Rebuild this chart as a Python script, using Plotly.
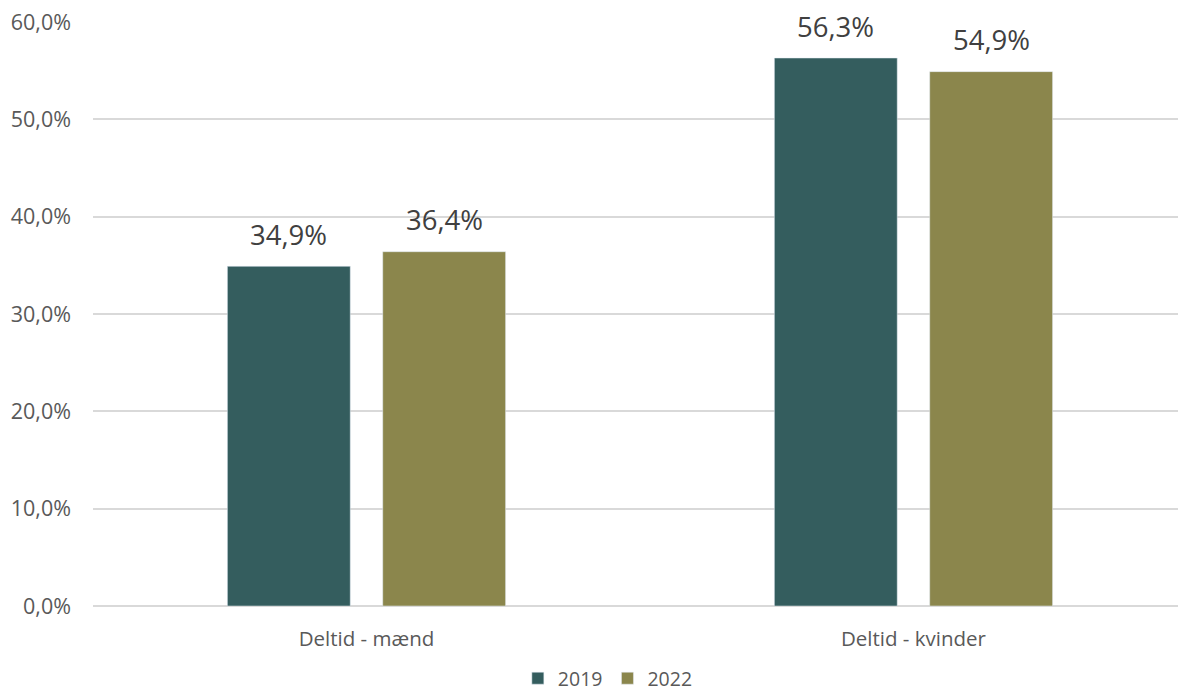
import plotly.graph_objects as go

categories = ["Deltid - mænd", "Deltid - kvinder"]
years = ["2019", "2022"]
values_2019 = [0.349, 0.563]
values_2022 = [0.364, 0.549]
colors = ["#345D5E", "#8B864C"]

def fmt(v):
    return f"{v*100:.1f}%".replace(".", ",")

BARGAP = 0.432
BARGROUPGAP = 0.209
CAT_PX = 547.5

fig = go.Figure()
series = [values_2019, values_2022]
for name, vals, col in zip(years, series, colors):
    fig.add_trace(go.Bar(
        x=categories, y=vals, name=name, marker_color=col,
        hoverinfo="x+y",
    ))

# data labels placed above each bar
slot_px = CAT_PX * (1 - BARGAP) / len(series)
for i, vals in enumerate(series):
    shift = (i - (len(series) - 1) / 2) * slot_px
    for cat, v in zip(categories, vals):
        fig.add_annotation(
            x=cat, y=v, text=fmt(v), showarrow=False,
            xshift=shift, yshift=32, yanchor="middle",
            font=dict(size=27.5, color="#404040", family="Open Sans"),
        )

fig.update_layout(
    width=1178, height=698,
    margin=dict(l=93, r=0, t=22, b=92),
    paper_bgcolor="white", plot_bgcolor="white",
    separators=",.",
    barmode="group", bargap=BARGAP, bargroupgap=BARGROUPGAP,
    font=dict(family="Open Sans", color="#595959"),
    legend=dict(orientation="h", xref="container", x=0.516, xanchor="center",
                yref="container", y=0.0, yanchor="bottom",
                font=dict(size=19.5, color="#595959"), itemwidth=30, traceorder="normal"),
    yaxis=dict(range=[0, 0.6], tickvals=[0, 0.1, 0.2, 0.3, 0.4, 0.5, 0.6], tickformat=".1%",
               gridcolor="#d9d9d9", gridwidth=1.5, zeroline=True, zerolinecolor="#d9d9d9",
               zerolinewidth=1.5, tickfont=dict(size=21.5, color="#595959"),
               ticks="", ticklabelstandoff=21, automargin=False),
    xaxis=dict(range=[-0.5, 1.4836], tickfont=dict(size=20.5, color="#595959"), ticks="",
               ticklabelstandoff=18, automargin=False),
)
fig.write_html("out.html")
